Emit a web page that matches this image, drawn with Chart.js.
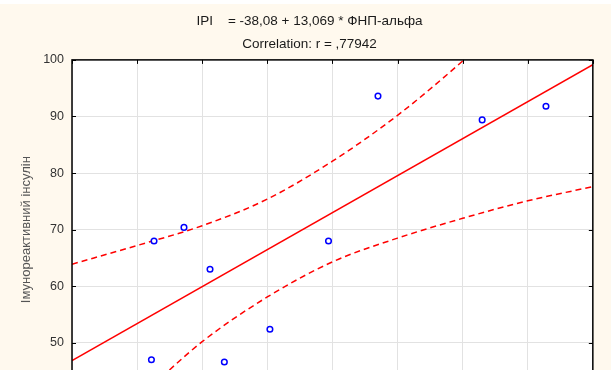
<!DOCTYPE html>
<html>
<head>
<meta charset="utf-8">
<script src="https://cdn.jsdelivr.net/npm/chart.js@4.4.1/dist/chart.umd.min.js"></script>
<style>
	html, body { margin: 0; padding: 0; overflow: hidden; background: #fff9ee; }
	#wrap { width: 611px; height: 450px; }
</style>
</head>
<body>
<div id="wrap"><canvas id="myChart" width="611" height="450"></canvas></div>
<script>
// regression IPI = a + b * ФНП-альфа
const intercept = -38.08;
const slope = 13.069;

// observations
const tnfValues = [7.13, 7.36, 7.56, 7.11, 7.67, 8.02, 8.47, 8.85, 9.65, 10.14];
const ipiValues = [68.0, 70.4, 63.0, 47.0, 46.6, 52.4, 68.0, 93.6, 89.4, 91.8];

// 95% confidence band
const bandX = [6.5, 7.0, 7.5, 8.0, 8.5, 9.0, 9.5, 10.0, 10.5];
const bandUpper = [63.9, 67.2, 70.7, 75.4, 82.1, 90.2, 99.8, 110.5, 121.0];
const bandLower = [30.0, 40.0, 50.2, 58.1, 64.3, 68.5, 72.0, 75.1, 77.6];

const xRange = [6.5, 10.5];
const yRange = [40, 100];

const FONT = "'Liberation Sans', Arial, sans-serif";

function toPoints(xs, ys) {
	return xs.map((x, i) => ({ x: x, y: ys[i] }));
}

const fitLine = xRange.map((x) => ({ x: x, y: intercept + slope * x }));

// cream page, white plot area
const backgroundPlugin = {
	id: "background",
	beforeDraw(chart) {
		const { ctx, chartArea: a } = chart;
		ctx.save();
		ctx.fillStyle = "#fff9ee";
		ctx.fillRect(0, 0, chart.width, chart.height);
		ctx.fillStyle = "#ffffff";
		ctx.fillRect(0, 0, chart.width, 4);
		ctx.fillRect(a.left, a.top, a.right - a.left, a.bottom - a.top);
		ctx.restore();
	},
};

// black frame with short ticks pointing inwards on all four sides
const framePlugin = {
	id: "frame",
	afterDraw(chart) {
		const { ctx, chartArea: a, scales } = chart;
		const len = 4;
		ctx.save();
		ctx.strokeStyle = "#000";
		ctx.lineWidth = 1;
		ctx.beginPath();
		scales.y.ticks.forEach((t) => {
			const py = Math.round(scales.y.getPixelForValue(t.value)) + 0.5;
			ctx.moveTo(a.left, py);
			ctx.lineTo(a.left + len, py);
			ctx.moveTo(a.right, py);
			ctx.lineTo(a.right - len, py);
		});
		scales.x.ticks.forEach((t) => {
			const px = Math.round(scales.x.getPixelForValue(t.value)) + 0.5;
			ctx.moveTo(px, a.top);
			ctx.lineTo(px, a.top + len);
			ctx.moveTo(px, a.bottom);
			ctx.lineTo(px, a.bottom - len);
		});
		ctx.stroke();
		ctx.lineWidth = 1.5;
		ctx.strokeRect(a.left, a.top, a.right - a.left, a.bottom - a.top);
		ctx.restore();
	},
};

const ctx = document.getElementById("myChart");
const chart = new Chart(ctx, {
	type: "scatter",
	data: {
		datasets: [
			{
				label: "IPI",
				data: toPoints(tnfValues, ipiValues),
				showLine: false,
				pointStyle: "circle",
				pointRadius: 2.8,
				pointBorderWidth: 1.5,
				pointBorderColor: "#0000ff",
				pointBackgroundColor: "#ffffff",
				order: 0,
			},
			{
				label: "fit",
				data: fitLine,
				showLine: true,
				borderColor: "#ff0000",
				borderWidth: 1.5,
				pointRadius: 0,
				order: 1,
			},
			{
				label: "upper",
				data: toPoints(bandX, bandUpper),
				showLine: true,
				borderColor: "#ff0000",
				borderWidth: 1.5,
				borderDash: [6, 4],
				cubicInterpolationMode: "monotone",
				pointRadius: 0,
				order: 2,
			},
			{
				label: "lower",
				data: toPoints(bandX, bandLower),
				showLine: true,
				borderColor: "#ff0000",
				borderWidth: 1.5,
				borderDash: [6, 4],
				cubicInterpolationMode: "monotone",
				pointRadius: 0,
				order: 3,
			},
		],
	},
	options: {
		responsive: false,
		animation: false,
		layout: { padding: { left: 8, right: 0, top: 0, bottom: 0 } },
		plugins: {
			legend: { display: false },
			tooltip: { enabled: false },
			title: {
				display: true,
				text: ["IPI    = -38,08 + 13,069 * ФНП-альфа", "Correlation: r = ,77942"],
				color: "#1a1a1a",
				font: { family: FONT, size: 13.5, weight: "normal", lineHeight: 1.7 },
				padding: { top: 10, bottom: 4 },
			},
		},
		scales: {
			x: {
				type: "linear",
				min: xRange[0],
				max: xRange[1],
				ticks: {
					stepSize: 0.5,
					color: "#333",
					padding: 6,
					font: { family: FONT, size: 12.5 },
				},
				grid: { color: "#e2e2e2", lineWidth: 1, drawTicks: false },
				border: { display: false },
				title: {
					display: true,
					text: "ФНП-альфа",
					color: "#444",
					font: { family: FONT, size: 13 },
				},
			},
			y: {
				type: "linear",
				min: yRange[0],
				max: yRange[1],
				ticks: {
					stepSize: 10,
					color: "#333",
					padding: 8,
					font: { family: FONT, size: 12.5 },
				},
				grid: { color: "#e2e2e2", lineWidth: 1, drawTicks: false },
				border: { display: false },
				title: {
					display: true,
					text: "Імунореактивний інсулін",
					color: "#555",
					padding: { top: 11, bottom: 0 },
					font: { family: FONT, size: 13 },
				},
				afterFit(scale) {
					scale.width = 64;
				},
			},
			// empty strip on the right of the frame
			yRight: {
				type: "linear",
				position: "right",
				min: yRange[0],
				max: yRange[1],
				ticks: { display: false },
				grid: { display: false },
				border: { display: false },
				afterFit(scale) {
					scale.width = 18;
				},
			},
		},
	},
	plugins: [backgroundPlugin, framePlugin],
});
</script>
</body>
</html>
